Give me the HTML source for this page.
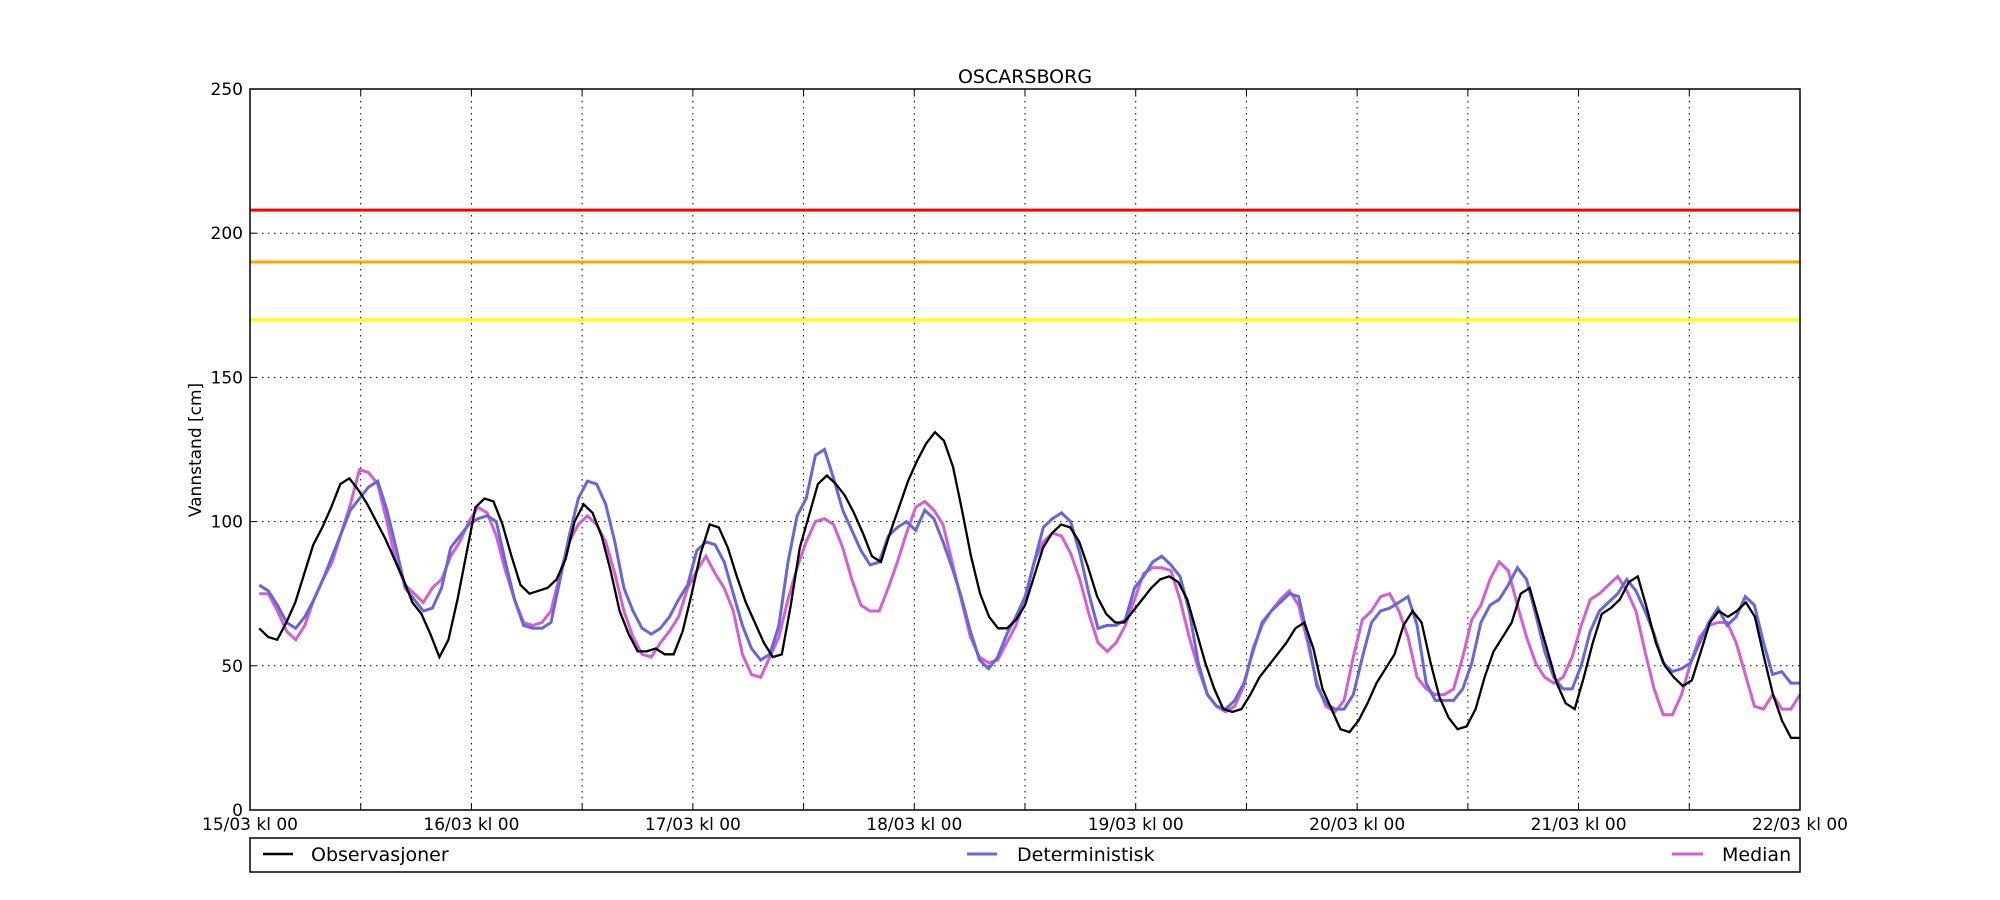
<!DOCTYPE html>
<html><head><meta charset="utf-8"><style>
html,body{margin:0;padding:0;background:#fff;}
svg{display:block;font-family:"DejaVu Sans","Liberation Sans",sans-serif;}
</style></head><body>
<svg id="chart" width="2000" height="900" viewBox="0 0 2000 900">
<text x="1025" y="83" text-anchor="middle" font-size="19">OSCARSBORG</text>
<text transform="translate(201,450) rotate(-90)" text-anchor="middle" font-size="17">Vannstand [cm]</text>
<g id="grid"></g>
<g id="thresholds"></g>
<g id="series"></g>
<rect x="250" y="89" width="1550" height="721" fill="none" stroke="#000" stroke-width="1.5"/>
<g id="ticks"></g>
<g>
<rect x="250" y="838" width="1550" height="34" fill="#fff" stroke="#000" stroke-width="1.5"/>
<line x1="263" y1="854" x2="293" y2="854" stroke="#000" stroke-width="2.5"/>
<text x="311" y="861" font-size="19">Observasjoner</text>
<line x1="967" y1="854" x2="997" y2="854" stroke="#6666dd" stroke-width="3"/>
<text x="1017" y="861" font-size="19">Deterministisk</text>
<line x1="1672" y1="854" x2="1703" y2="854" stroke="#d45fd4" stroke-width="3"/>
<text x="1722" y="861" font-size="19">Median</text>
</g>
</svg>
<script>
const xTickLabels=["15/03 kl 00","16/03 kl 00","17/03 kl 00","18/03 kl 00","19/03 kl 00","20/03 kl 00","21/03 kl 00","22/03 kl 00"];
const yTicks=[0,50,100,150,200,250];
const thresholdValues=[208,190,170];
const thresholdColors=["#ff0000","#ffa500","#ffff00"];
const observed=[63,60,59,65,72,82,92,98,105,113,115,111,106,100,94,87,80,72,68,61,53,59,73,89,105,108,107,99,88,78,75,76,77,80,87,100,106,103,95,83,69,61,55,55,56,54,54,62,75,89,99,98,91,81,72,65,58,53,54,71,91,102,113,116,113,109,103,96,88,86,96,105,114,121,127,131,128,119,104,88,75,67,63,63,66,71,81,91,96,99,98,93,84,74,68,65,65,69,73,77,80,81,79,73,62,51,42,35,34,35,40,46,50,54,58,63,65,56,42,35,28,27,31,37,44,49,54,64,69,65,51,39,32,28,29,35,46,55,60,65,75,77,66,55,44,37,35,46,58,68,70,73,79,81,70,58,50,46,43,45,55,65,69,67,69,72,67,53,40,31,25,25];
const deterministic=[78,76,71,65,63,67,73,80,88,96,104,108,112,114,104,91,77,73,69,70,77,91,95,99,101,102,100,86,73,64,63,63,65,80,95,108,114,113,106,93,77,69,63,61,63,67,73,78,90,93,92,86,75,64,56,52,54,64,86,102,108,123,125,115,104,97,90,85,86,95,98,100,97,104,101,93,84,74,62,52,49,53,61,67,74,86,98,101,103,100,89,75,63,64,64,66,77,81,86,88,85,81,69,51,40,36,35,38,44,55,65,69,72,75,74,60,43,37,35,35,40,53,65,69,70,72,74,64,44,38,38,38,42,51,65,71,73,78,84,80,68,55,46,42,42,50,62,69,72,75,80,76,69,61,51,48,49,51,58,65,70,64,67,74,71,58,47,48,44,44];
const median=[75,75,69,62,59,64,73,80,86,96,106,118,117,113,100,86,78,75,72,77,80,88,93,100,105,103,95,83,73,65,64,65,69,82,93,99,102,99,93,82,69,60,54,53,58,62,67,77,83,88,82,77,69,54,47,46,53,60,73,84,93,100,101,99,91,80,71,69,69,77,86,96,105,107,104,99,86,73,60,53,51,52,58,64,73,86,93,96,95,89,80,68,58,55,58,64,73,82,84,84,83,73,60,49,40,36,34,36,43,56,64,69,73,76,71,58,44,36,34,38,53,66,69,74,75,69,60,46,42,40,40,42,53,66,71,80,86,83,71,60,51,46,44,46,53,64,73,75,78,81,76,69,55,42,33,33,40,51,60,64,65,65,58,47,36,35,40,35,35,40];

const PX0=250,PX1=1800,PY0=89,PY1=810,HOURS=168,YMAX=250;
const xs=h=>PX0+h/HOURS*(PX1-PX0);
const ys=v=>PY1-v/YMAX*(PY1-PY0);
const NS="http://www.w3.org/2000/svg";
function mk(tag,attrs,parent){const e=document.createElementNS(NS,tag);for(const k in attrs)e.setAttribute(k,attrs[k]);parent.appendChild(e);return e;}
const grid=document.getElementById('grid'),ticks=document.getElementById('ticks'),thr=document.getElementById('thresholds'),ser=document.getElementById('series');

for(let k=1;k<14;k++){const x=xs(k*12);
  const g=mk('line',{x1:x,y1:PY0,x2:x,y2:PY1,stroke:'#000','stroke-width':1,'stroke-dasharray':'1.5,4.5'},grid);
  
  
  const t1=mk('line',{x1:x,y1:PY1,x2:x,y2:PY1-6,stroke:'#000'},ticks);
  
  
  const t2=mk('line',{x1:x,y1:PY0,x2:x,y2:PY0+6,stroke:'#000'},ticks);
  
  
}
yTicks.forEach(v=>{const y=ys(v);
  if(v>0&&v<YMAX){const g=mk('line',{x1:PX0,y1:y,x2:PX1,y2:y,stroke:'#000','stroke-width':1,'stroke-dasharray':'1.5,4.5'},grid);
    
    }
  const t=mk('text',{x:PX0-7,y:y+6,'text-anchor':'end','font-size':17},ticks);t.textContent=v;
  
  
  const tl=mk('line',{x1:PX0,y1:y,x2:PX0+6,y2:y,stroke:'#000'},ticks);
  
  
});
xTickLabels.forEach((s,i)=>{const t=mk('text',{x:xs(i*24),y:830,'text-anchor':'middle','font-size':17},ticks);t.textContent=s;
  
  });
thresholdValues.forEach((v,i)=>{const l=mk('line',{x1:PX0,y1:ys(v),x2:PX1,y2:ys(v),stroke:thresholdColors[i],'stroke-width':3},thr);
  
  });
function drawSeries(vals,color,w,name){
  const n=vals.length;
  const pts=vals.map((v,i)=>xs(1+i*(HOURS-1)/(n-1)).toFixed(1)+','+ys(v).toFixed(1)).join(' ');
  const p=mk('polyline',{points:pts,fill:'none',stroke:color,'stroke-width':w,'stroke-linejoin':'miter'},ser);
  
  
}
drawSeries(median,'#d45fd4',3,'median-line');
drawSeries(deterministic,'#6666dd',3,'deterministic-line');
drawSeries(observed,'#000',2.3,'observed-line');
</script>
</body></html>
